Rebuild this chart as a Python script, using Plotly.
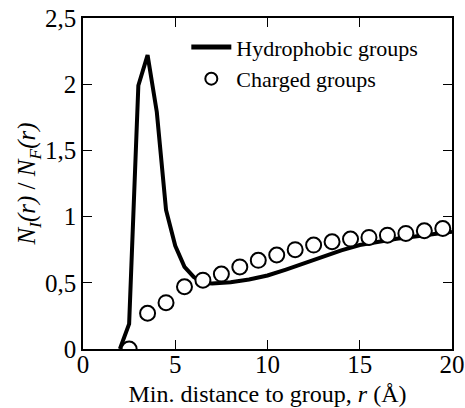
import plotly.graph_objects as go

# Hydrophobic groups (line)
r_hydro = [2.0, 2.5, 3.0, 3.5, 4.0, 4.5, 5.0, 5.5, 6.0, 6.5, 7.0, 8.0, 9.0, 10.0, 11.0, 12.0, 13.0, 14.0, 15.0, 16.0, 17.0, 18.0, 19.0, 20.0]
n_hydro = [0.0, 0.19, 1.99, 2.22, 1.79, 1.05, 0.78, 0.62, 0.545, 0.5, 0.495, 0.505, 0.525, 0.555, 0.6, 0.65, 0.7, 0.745, 0.785, 0.812, 0.832, 0.85, 0.866, 0.885]

# Charged groups (circles)
r_charged = [2.5, 3.5, 4.5, 5.5, 6.5, 7.5, 8.5, 9.5, 10.5, 11.5, 12.5, 13.5, 14.5, 15.5, 16.5, 17.5, 18.5, 19.5]
n_charged = [0.0, 0.27, 0.35, 0.47, 0.52, 0.566, 0.62, 0.67, 0.71, 0.75, 0.785, 0.81, 0.83, 0.843, 0.86, 0.873, 0.893, 0.91]

x_ticks = [0, 5, 10, 15, 20]
y_ticks = [0, 0.5, 1, 1.5, 2, 2.5]
y_tick_labels = ["0", "0,5", "1", "1,5", "2", "2,5"]

FONT = "'Liberation Serif', 'Times New Roman', Times, serif"

fig = go.Figure()
fig.add_trace(go.Scatter(
    x=r_hydro, y=n_hydro, mode="lines", name="Hydrophobic groups",
    line=dict(color="black", width=4),
))
fig.add_trace(go.Scatter(
    x=r_charged, y=n_charged, mode="markers", name="Charged groups",
    marker=dict(symbol="circle", size=15, color="white",
                line=dict(color="black", width=2)),
))

axis_common = dict(
    showline=True, linecolor="black", linewidth=1.5, mirror="ticks",
    ticks="inside", ticklen=9, tickwidth=1.2, tickcolor="black",
    showgrid=False, zeroline=False, automargin=False,
    tickfont=dict(family=FONT, size=25, color="black"),
)

fig.update_layout(
    width=465, height=408,
    margin=dict(l=83, r=13, t=18, b=59),
    plot_bgcolor="white", paper_bgcolor="white",
    font=dict(family=FONT, color="black"),
    showlegend=True,
    legend=dict(
        x=0.28, y=0.975, xanchor="left", yanchor="top",
        bgcolor="rgba(0,0,0,0)", borderwidth=0,
        font=dict(family=FONT, size=22, color="black"),
        tracegroupgap=0, itemwidth=40, itemsizing="constant",
    ),
    xaxis=dict(
        range=[0, 20], tickvals=x_ticks, ticktext=[str(v) for v in x_ticks],
        ticklabelstandoff=-8,
        title=dict(text="Min. distance to group, <i>r</i> (Å)",
                   font=dict(family=FONT, size=24, color="black"), standoff=8),
        **axis_common,
    ),
    yaxis=dict(
        range=[0, 2.5], tickvals=y_ticks, ticktext=y_tick_labels,
        title=dict(text="<i>N<sub>I</sub>(r)</i> / <i>N<sub>F</sub>(r)</i>",
                   font=dict(family=FONT, size=25, color="black"), standoff=2),
        **axis_common,
    ),
)

fig.write_html("out.html")
